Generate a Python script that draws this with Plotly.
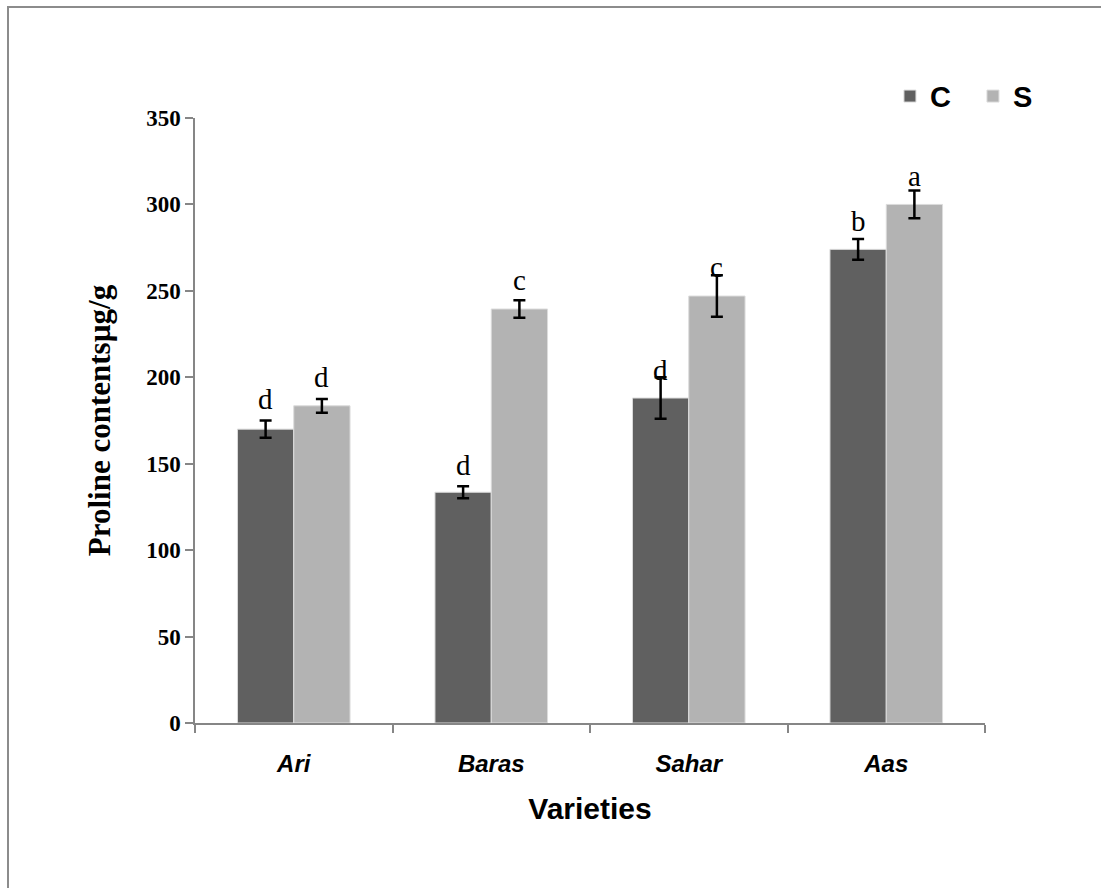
import plotly.graph_objects as go

varieties = ["Ari", "Baras", "Sahar", "Aas"]
c_values = [170, 133.5, 188, 274]
s_values = [183.5, 239.5, 247, 300]
c_err = [5, 3.5, 12, 6]
s_err = [4, 5, 12, 8]
c_letters = ["d", "d", "d", "b"]
s_letters = ["d", "c", "c", "a"]
# baseline heights of significance letters (data units)
c_letter_y = [181.7, 143.5, 198.4, 284.6]
s_letter_y = [194.4, 250.5, 258.0, 310.7]
y_ticks = [0, 50, 100, 150, 200, 250, 300, 350]

C_COLOR = "#606060"
S_COLOR = "#b3b3b3"
SERIF = "Liberation Serif, Times New Roman, serif"
SANS = "Liberation Sans, Arial, sans-serif"

fig = go.Figure()
fig.add_trace(go.Bar(
    name="C", x=varieties, y=c_values,
    marker=dict(color=C_COLOR, line=dict(color="#dcdcdc", width=1)),
    error_y=dict(type="data", array=c_err, color="black", thickness=2.5, width=6),
))
fig.add_trace(go.Bar(
    name="S", x=varieties, y=s_values,
    marker=dict(color=S_COLOR, line=dict(color="#dcdcdc", width=1)),
    error_y=dict(type="data", array=s_err, color="black", thickness=2.5, width=6),
))

half = (1 - 0.43) / 4
annotations = []
for i in range(len(varieties)):
    for off, lab, yy in ((-half, c_letters[i], c_letter_y[i]), (half, s_letters[i], s_letter_y[i])):
        annotations.append(dict(
            x=i + off, y=yy, xref="x", yref="y", text=lab, showarrow=False,
            yanchor="bottom", yshift=-8,
            font=dict(family=SERIF, size=29, color="black"),
        ))

fig.update_layout(
    width=1101, height=888,
    margin=dict(l=195, r=116, t=118, b=165),
    paper_bgcolor="white", plot_bgcolor="white",
    barmode="group", bargap=0.43, bargroupgap=0,
    annotations=annotations,
    legend=dict(
        orientation="h", x=0.8797, xanchor="left", y=1.036, yanchor="middle",
        font=dict(family=SANS, size=29, color="black", weight="bold"),
        entrywidth=38, entrywidthmode="pixels", itemwidth=30,
        bgcolor="rgba(0,0,0,0)",
    ),
    showlegend=True,
    shapes=[dict(
        type="rect", xref="paper", yref="paper",
        x0=(8 - 195) / 790, x1=(1120 - 195) / 790,
        y0=(723 - 910) / 605, y1=(723 - 7) / 605,
        line=dict(color="#8c8c8c", width=2), fillcolor="rgba(0,0,0,0)", layer="below",
    )],
)

fig.update_xaxes(
    type="category", range=[-0.5, 3.5],
    showline=True, linecolor="#868686", linewidth=1.5,
    ticks="outside", tickson="boundaries", ticklen=8, tickcolor="#868686", tickwidth=1.5,
    showgrid=False, zeroline=False,
    tickfont=dict(family=SANS, size=24, color="black", weight="bold", style="italic"),
    ticklabelstandoff=18,
    title=dict(text="Varieties", font=dict(family=SANS, size=30, color="black", weight="bold"), standoff=22),
)
fig.update_yaxes(
    range=[0, 350], tickvals=y_ticks,
    showline=True, linecolor="#868686", linewidth=1.5,
    ticks="outside", ticklen=8, tickcolor="#868686", tickwidth=1.5,
    showgrid=False, zeroline=False,
    tickfont=dict(family=SERIF, size=23, color="black", weight="bold"),
    title=dict(text="Proline contentsµg/g", font=dict(family=SERIF, size=31, color="black", weight="bold"), standoff=26),
)

fig.write_html("out.html")
